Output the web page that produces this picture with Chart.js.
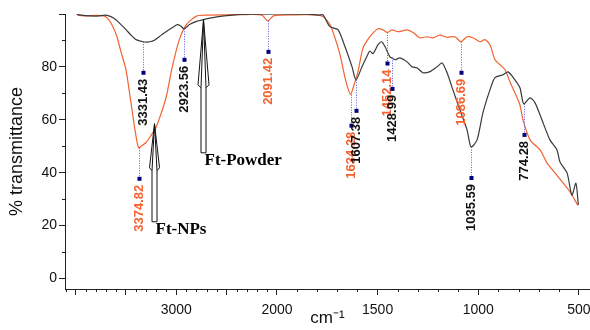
<!DOCTYPE html>
<html>
<head>
<meta charset="utf-8">
<script src="https://cdn.jsdelivr.net/npm/chart.js@4.4.0/dist/chart.umd.min.js"></script>
<style>
  html, body { margin: 0; padding: 0; background: #fff; }
</style>
</head>
<body>
<canvas id="canvas" width="590" height="330"></canvas>
<script>
// Ft-NPs (curva naranja)
const npsWn = [3980, 3900, 3800, 3720, 3670, 3630, 3590, 3550, 3500, 3470, 3440, 3410, 3374.82, 3340, 3300, 3250, 3200, 3150, 3100, 3040, 2970, 2900, 2800, 2700, 2500, 2300, 2150, 2091.42, 2030, 1900, 1800, 1771, 1737, 1712, 1687, 1662, 1646, 1634.28, 1622, 1598, 1573, 1538, 1498, 1473, 1452.14, 1429, 1399, 1354, 1324, 1290, 1255, 1225, 1190, 1155, 1116, 1086.69, 1056, 1026, 992, 967, 942, 917, 892, 867, 843, 818, 793, 778, 743, 693, 659, 619, 579, 544, 505];
const npsVal = [99.6, 99.3, 99.5, 99.3, 97.8, 95.2, 91.4, 85.7, 78.9, 71.5, 63.7, 56, 49.4, 50.3, 51.4, 54.2, 57.3, 62.5, 68.7, 80, 90.3, 96, 99.2, 99.6, 99.7, 99.8, 99.6, 97.4, 99.4, 99.7, 99.6, 99, 96, 91, 84.6, 75.9, 71.5, 69.5, 72, 78, 87, 91.4, 94.4, 94, 93, 94, 93.3, 94, 93, 91, 91.4, 91, 92, 91.2, 91.4, 89.5, 91.4, 91, 89.5, 90.3, 88.4, 82.7, 80.8, 78.9, 74.4, 70.2, 65.6, 60, 52.4, 48.6, 43.7, 39.9, 36.1, 32.7, 27.6];

// Ft-Powder (curva negra)
const powderWn = [3990, 3900, 3800, 3770, 3700, 3650, 3600, 3550, 3500, 3450, 3400, 3331.43, 3290, 3250, 3210, 3170, 3120, 3070, 3020, 2990, 2960, 2923.56, 2890, 2870, 2800, 2740, 2600, 2440, 2270, 2000, 1850, 1790, 1771, 1737, 1697, 1662, 1627, 1607.38, 1578, 1553, 1538, 1523, 1498, 1480, 1463, 1439, 1428.99, 1414, 1389, 1354, 1329, 1305, 1275, 1240, 1205, 1180, 1155, 1126, 1091, 1056, 1035.59, 1006, 977, 942, 917, 877, 852, 818, 793, 774.28, 743, 718, 684, 644, 609, 594, 559, 535, 515, 503];
const powderVal = [99.8, 99.4, 99.2, 99.3, 99.6, 99, 97.8, 96, 94.1, 92, 90.3, 89.5, 89.4, 89.6, 90.3, 91.4, 92.8, 94.1, 95.3, 96, 95.6, 94.4, 95.3, 96, 97.2, 97.8, 98.9, 99.6, 99.9, 100, 99.9, 99.6, 99.7, 95.2, 94.1, 87.6, 80, 75.1, 80, 84, 86, 85, 88.4, 89.5, 87.6, 83.8, 83.4, 82.7, 83.4, 81.9, 80, 79.7, 77.8, 78.2, 80, 81.5, 77.8, 71.3, 63.7, 56.2, 49.7, 52.4, 62.6, 71.3, 75.9, 77, 78.1, 75.1, 72.1, 66, 68.3, 66.4, 60, 52.4, 48.6, 44, 39.9, 31.5, 36, 27.8];

// picos marcados
const npsPeakWn = [3374.82, 2091.42, 1634.28, 1452.14, 1086.69];
const npsPeakVal = [49.4, 97.4, 69.5, 93, 89.5];
const powderPeakWn = [3331.43, 2923.56, 1607.38, 1428.99, 1035.59, 774.28];
const powderPeakVal = [89.5, 94.4, 75.1, 83.4, 49.7, 66];

// flechas de las muestras
const arrowNames = ["Ft-NPs", "Ft-Powder"];
const arrowWn = [3220, 2730];
const arrowVal = [58.5, 97.8];

// ejes
const xTickWn = [4000, 3500, 3000, 2500, 2000, 1500, 1000, 500];
const xTickLabels = ["", "", "3000", "", "2000", "1500", "1000", "500"];
const yTicks = [0, 20, 40, 60, 80, 100];
const yTickLabels = ["0", "20", "40", "60", "80", ""];

const ORANGE = "#f4622f";
const DARK = "#3a3a3a";
const SANS = "'Liberation Sans', Arial, sans-serif";

// escala partida en 2000 cm-1: por encima de 2000 va comprimida a la mitad
const fold = (w) => (w > 2000 ? 2000 + (w - 2000) / 2 : w);

const toPoints = (wn, val) => wn.map((w, i) => ({ x: fold(w), y: val[i] }));

// Dibuja ticks menores, marcas de picos, flechas y nombres
const extras = {
  id: "extras",
  afterDraw(chart) {
    const { ctx, chartArea } = chart;
    const xs = chart.scales.x;
    const ys = chart.scales.y;
    ctx.save();

    // ticks menores
    ctx.strokeStyle = "#222";
    ctx.lineWidth = 1;
    ctx.beginPath();
    for (let w = 4100; w >= 500; w -= 100) {
      if (w % 500 === 0) continue;
      const px = Math.round(xs.getPixelForValue(fold(w))) + 0.5;
      ctx.moveTo(px, chartArea.bottom);
      ctx.lineTo(px, chartArea.bottom + 3);
    }
    for (let v = 10; v < 100; v += 20) {
      const py = Math.round(ys.getPixelForValue(v)) + 0.5;
      ctx.moveTo(chartArea.left - 3, py);
      ctx.lineTo(chartArea.left, py);
    }
    ctx.stroke();

    // marcas de picos
    const drawPeaks = (wns, vals, color) => {
      wns.forEach((w, i) => {
        const px = Math.round(xs.getPixelForValue(fold(w))) + 0.5;
        const py = ys.getPixelForValue(vals[i]);
        const sq = py + 31;
        ctx.strokeStyle = "#5a5ad8";
        ctx.setLineDash([1, 1.5]);
        ctx.beginPath();
        ctx.moveTo(px, py);
        ctx.lineTo(px, sq);
        ctx.stroke();
        ctx.setLineDash([]);
        ctx.fillStyle = "#00007a";
        ctx.fillRect(px - 2, sq - 2, 4, 4);
        ctx.save();
        ctx.translate(px, sq + 6);
        ctx.rotate(-Math.PI / 2);
        ctx.font = "bold 13px " + SANS;
        ctx.fillStyle = color;
        ctx.textAlign = "right";
        ctx.textBaseline = "middle";
        ctx.fillText(w.toFixed(2), 0, 0);
        ctx.restore();
      });
    };
    drawPeaks(npsPeakWn, npsPeakVal, ORANGE);
    drawPeaks(powderPeakWn, powderPeakVal, "#111");

    // flechas huecas
    const arrowShape = [
      { head: 44, half: 5, shaft: 2.5, len: 98 },
      { head: 65, half: 5.5, shaft: 2.5, len: 133 },
    ];
    arrowNames.forEach((name, i) => {
      const tx = Math.round(xs.getPixelForValue(fold(arrowWn[i]))) + 0.5;
      const ty = ys.getPixelForValue(arrowVal[i]);
      const s = arrowShape[i];
      const hy = ty + s.head;
      const by = ty + s.len;
      ctx.strokeStyle = "#111";
      ctx.lineWidth = 1;
      ctx.beginPath();
      ctx.moveTo(tx, ty);
      ctx.lineTo(tx + s.half, hy);
      ctx.lineTo(tx + s.shaft, hy + 3);
      ctx.lineTo(tx + s.shaft, by);
      ctx.lineTo(tx - s.shaft, by);
      ctx.lineTo(tx - s.shaft, hy + 3);
      ctx.lineTo(tx - s.half, hy);
      ctx.closePath();
      ctx.moveTo(tx, ty);
      ctx.lineTo(tx + s.shaft, hy + 3);
      ctx.moveTo(tx, ty);
      ctx.lineTo(tx - s.shaft, hy + 3);
      ctx.stroke();

      ctx.font = "bold 17px 'Liberation Serif', 'Times New Roman', serif";
      ctx.fillStyle = "#000";
      ctx.textAlign = "left";
      ctx.textBaseline = "middle";
      ctx.fillText(name, tx + 1, by + 8);
    });

    ctx.restore();
  },
};

const grafico = document.getElementById("canvas");

new Chart(grafico, {
  type: "line",
  data: {
    datasets: [
      {
        label: "Ft-Powder",
        data: toPoints(powderWn, powderVal),
        borderColor: DARK,
        borderWidth: 1.2,
        pointRadius: 0,
        tension: 0.25,
      },
      {
        label: "Ft-NPs",
        data: toPoints(npsWn, npsVal),
        borderColor: ORANGE,
        borderWidth: 1.2,
        pointRadius: 0,
        tension: 0.25,
      },
    ],
  },
  options: {
    responsive: false,
    animation: false,
    devicePixelRatio: 1,
    layout: { padding: { top: 14, right: 0, left: 0, bottom: 0 } },
    plugins: { legend: { display: false }, tooltip: { enabled: false } },
    scales: {
      x: {
        type: "linear",
        reverse: true,
        min: fold(445),
        max: fold(4106),
        afterBuildTicks: (scale) => {
          scale.ticks = xTickWn.map((w) => ({ value: fold(w) }));
        },
        afterFit: (scale) => {
          // alto fijo y sin margen extra por la etiqueta "500" del borde
          scale.height = 41;
          scale.paddingLeft = 0;
          scale.paddingRight = 0;
        },
        ticks: {
          autoSkip: false,
          maxRotation: 0,
          padding: 7,
          color: "#111",
          font: { family: SANS, size: 14 },
          callback: (value, index) => xTickLabels[index],
        },
        grid: { drawOnChartArea: false, tickLength: 6, color: "#222" },
        border: { color: "#222", width: 1 },
        title: {
          display: true,
          text: "cm\u207B\u00B9",
          color: "#111",
          font: { family: SANS, size: 17 },
          padding: { top: 0, bottom: 1 },
        },
      },
      y: {
        min: -4,
        max: 100,
        afterBuildTicks: (scale) => {
          scale.ticks = yTicks.map((v) => ({ value: v }));
        },
        afterFit: (scale) => {
          scale.width = 65;
        },
        ticks: {
          padding: 2,
          color: "#111",
          font: { family: SANS, size: 14 },
          callback: (value, index) => yTickLabels[index],
        },
        grid: { drawOnChartArea: false, tickLength: 6, color: "#222" },
        border: { color: "#222", width: 1 },
        title: {
          display: true,
          text: "% transmittance",
          color: "#111",
          font: { family: SANS, size: 18 },
          padding: { top: 6, bottom: 0 },
        },
      },
    },
  },
  plugins: [extras],
});
</script>
</body>
</html>
